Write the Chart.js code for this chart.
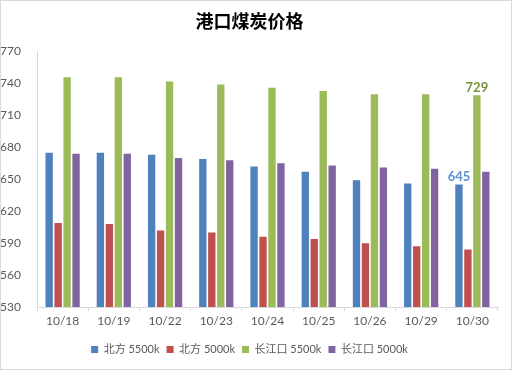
<!DOCTYPE html>
<html>
<head>
<meta charset="utf-8">
<script src="https://cdn.jsdelivr.net/npm/chart.js@4/dist/chart.umd.min.js"></script>
<style>
  html, body { margin: 0; padding: 0; background: #fff; }
  #wrap { width: 510px; height: 368px; border: 1px solid #d9d9d9; background: #fff; }
  canvas { display: block; }
</style>
</head>
<body>
<div id="wrap"><canvas id="c" width="510" height="368"></canvas></div>
<script>
const categories = ['10/18', '10/19', '10/22', '10/23', '10/24', '10/25', '10/26', '10/29', '10/30'];
const seriesNames = ['北方 5500k', '北方 5000k', '长江口 5500k', '长江口 5000k'];
const north5500 = [675, 675, 673, 669, 662, 657, 649, 646, 645];
const north5000 = [609, 608, 602, 600, 596, 594, 590, 587, 584];
const cj5500 = [746, 746, 742, 739, 736, 733, 730, 730, 729];
const cj5000 = [674, 674, 670, 668, 665, 663, 661, 660, 657];
const yTicks = [530, 560, 590, 620, 650, 680, 710, 740, 770];

const colors = ['#4f81bd', '#c0504d', '#9bbb59', '#8064a2'];
const labelColors = ['#5b8fd6', null, '#77933c', null];
const fontFam = "Lato, 'Noto Sans CJK SC', sans-serif";

const lastLabelPlugin = {
  id: 'lastLabel',
  afterDatasetsDraw(chart) {
    const ctx = chart.ctx;
    ctx.save();
    ctx.font = "bold 13px " + fontFam;
    ctx.textAlign = 'center';
    ctx.textBaseline = 'bottom';
    [0, 2].forEach(di => {
      const meta = chart.getDatasetMeta(di);
      const idx = meta.data.length - 1;
      const bar = meta.data[idx];
      ctx.fillStyle = labelColors[di];
      ctx.fillText(String(chart.data.datasets[di].data[idx]), bar.x, bar.y - 1);
    });
    ctx.restore();
  }
};

const data = [north5500, north5000, cj5500, cj5000];
new Chart(document.getElementById('c'), {
  type: 'bar',
  data: {
    labels: categories,
    datasets: data.map((d, i) => ({
      label: seriesNames[i],
      data: d,
      backgroundColor: colors[i],
      borderWidth: 0,
      categoryPercentage: 0.70,
      barPercentage: 0.82
    }))
  },
  options: {
    responsive: false,
    animation: false,
    layout: { padding: { left: 0, right: 13, top: 0, bottom: 4 } },
    plugins: {
      title: {
        display: true,
        text: '港口煤炭价格',
        color: '#000',
        font: { family: "'Noto Sans CJK SC', sans-serif", size: 18, weight: 'bold' },
        padding: { top: 9, bottom: 20 }
      },
      legend: {
        position: 'bottom',
        labels: {
          boxWidth: 7,
          boxHeight: 7,
          padding: 7,
          color: '#595959',
          font: { family: fontFam, size: 11 }
        }
      },
      tooltip: { enabled: false }
    },
    scales: {
      x: {
        grid: { display: true, drawOnChartArea: false, drawTicks: true, tickLength: 4, color: '#d9d9d9', offset: true },
        border: { display: true, color: '#d9d9d9' },
        ticks: { color: '#595959', font: { family: fontFam, size: 12 }, padding: 3, maxRotation: 0 },
        afterFit(s) { s.height = 30; }
      },
      y: {
        min: 530,
        max: 770,
        afterBuildTicks(s) { s.ticks = yTicks.map(v => ({ value: v })); },
        grid: { display: false },
        border: { display: true, color: '#d9d9d9' },
        ticks: { color: '#595959', font: { family: fontFam, size: 12 }, padding: 8 },
        afterFit(s) { s.width = 36; }
      }
    }
  },
  plugins: [lastLabelPlugin]
});
</script>
</body>
</html>
